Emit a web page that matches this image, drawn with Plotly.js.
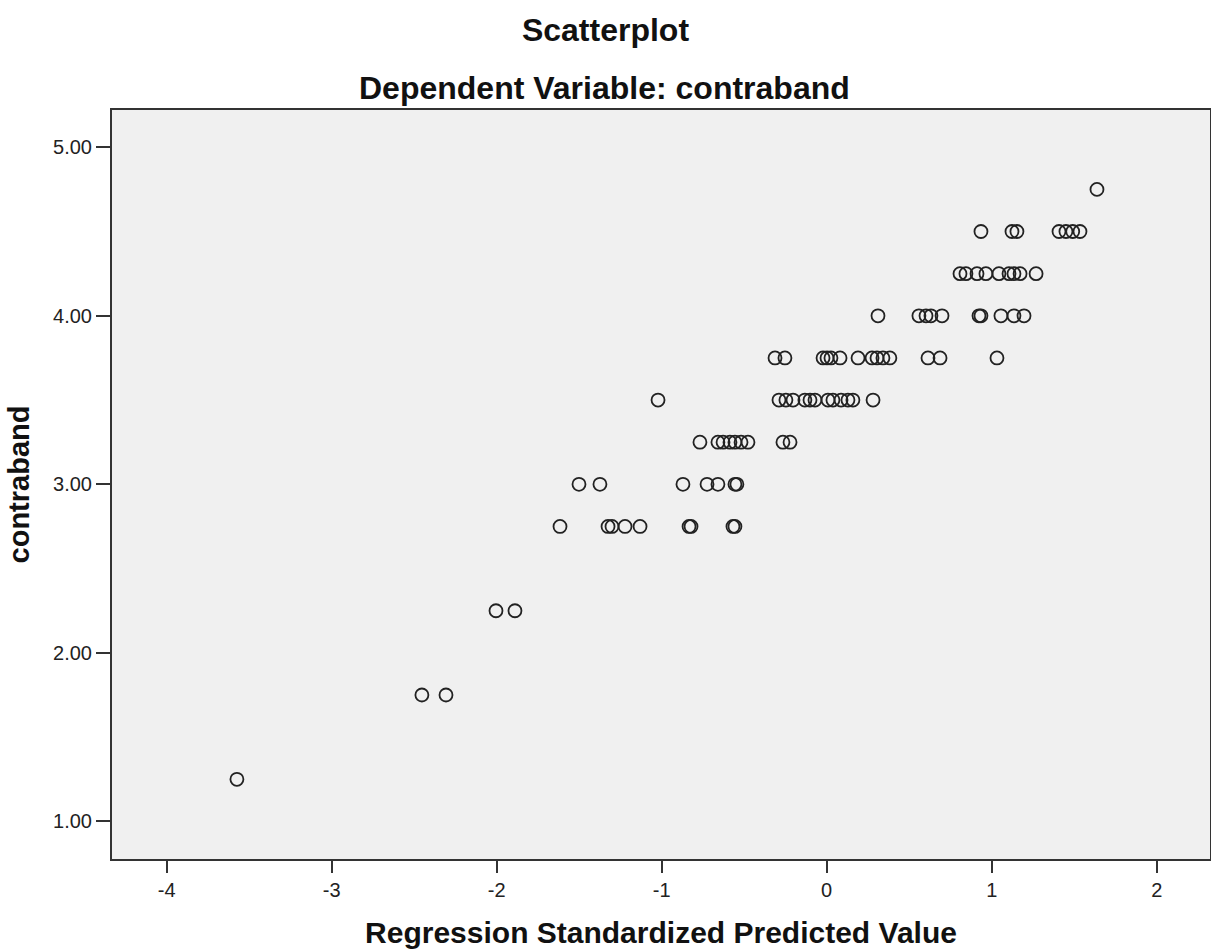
<!DOCTYPE html>
<html>
<head>
<meta charset="utf-8">
<script src="https://cdn.plot.ly/plotly-3.0.1.min.js"></script>
<style>html,body{margin:0;padding:0;background:#fff;}#chart{width:1211px;height:952px;}</style>
</head>
<body>
<div id="chart"></div>
<script>
const predicted = [
  -3.574,
  -2.453, -2.307,
  -2.004, -1.889,
  -1.616, -1.325, -1.301, -1.222, -1.131, -0.834, -0.822, -0.568, -0.556,
  -1.501, -1.374, -0.871, -0.725, -0.659, -0.556, -0.544,
  -0.768, -0.659, -0.628, -0.586, -0.556, -0.519, -0.477, -0.265, -0.222,
  -1.022, -0.289, -0.247, -0.204, -0.132, -0.101, -0.071, 0.008, 0.038, 0.087, 0.129, 0.159, 0.281,
  -0.313, -0.253, -0.022, 0.002, 0.026, 0.081, 0.190, 0.275, 0.305, 0.341, 0.383, 0.614, 0.687, 1.032,
  0.311, 0.559, 0.602, 0.632, 0.699, 0.923, 0.935, 1.056, 1.135, 1.196,
  0.808, 0.844, 0.911, 0.965, 1.044, 1.105, 1.135, 1.172, 1.269,
  0.935, 1.123, 1.153, 1.408, 1.450, 1.491, 1.535,
  1.638
];
const contraband = [
  1.25,
  1.75, 1.75,
  2.25, 2.25,
  2.75, 2.75, 2.75, 2.75, 2.75, 2.75, 2.75, 2.75, 2.75,
  3.00, 3.00, 3.00, 3.00, 3.00, 3.00, 3.00,
  3.25, 3.25, 3.25, 3.25, 3.25, 3.25, 3.25, 3.25, 3.25,
  3.50, 3.50, 3.50, 3.50, 3.50, 3.50, 3.50, 3.50, 3.50, 3.50, 3.50, 3.50, 3.50,
  3.75, 3.75, 3.75, 3.75, 3.75, 3.75, 3.75, 3.75, 3.75, 3.75, 3.75, 3.75, 3.75, 3.75,
  4.00, 4.00, 4.00, 4.00, 4.00, 4.00, 4.00, 4.00, 4.00, 4.00,
  4.25, 4.25, 4.25, 4.25, 4.25, 4.25, 4.25, 4.25, 4.25,
  4.50, 4.50, 4.50, 4.50, 4.50, 4.50, 4.50,
  4.75
];
const xTicks = [-4, -3, -2, -1, 0, 1, 2];
const yTicks = [1, 2, 3, 4, 5];
const yTickLabels = ['1.00', '2.00', '3.00', '4.00', '5.00'];

const font = 'Liberation Sans, Arial, sans-serif';

const trace = {
  type: 'scatter',
  mode: 'markers',
  x: predicted,
  y: contraband,
  marker: {
    symbol: 'circle-open',
    size: 13,
    color: '#222222',
    line: {width: 1.8, color: '#222222'}
  },
  hoverinfo: 'x+y'
};

const layout = {
  width: 1211,
  height: 952,
  margin: {l: 112, r: 1, t: 110, b: 93, pad: 0},
  paper_bgcolor: '#ffffff',
  plot_bgcolor: '#f0f0f0',
  showlegend: false,
  font: {family: font, color: '#111111'},
  title: {
    text: '<b>Scatterplot</b>',
    font: {family: font, size: 32, color: '#111111'},
    x: 0.5, xanchor: 'center',
    y: 1 - 30 / 952, yanchor: 'middle'
  },
  annotations: [{
    text: '<b>Dependent Variable: contraband</b>',
    xref: 'paper', yref: 'paper',
    x: (604 - 112) / 1098, xanchor: 'center',
    y: 1 + (110 - 88) / 749, yanchor: 'middle',
    showarrow: false,
    font: {family: font, size: 32, color: '#111111'}
  }],
  xaxis: {
    range: [-4.331, 2.323],
    tickmode: 'array',
    tickvals: xTicks,
    ticktext: xTicks.map(String),
    ticks: 'outside', ticklen: 12, tickwidth: 2, tickcolor: '#333333',
    tickfont: {family: font, size: 20, color: '#222222'},
    showgrid: false, zeroline: false,
    showline: true, mirror: true, linecolor: '#333333', linewidth: 2,
    title: {
      text: '<b>Regression Standardized Predicted Value</b>',
      font: {family: font, size: 30, color: '#111111'},
      standoff: 22
    }
  },
  yaxis: {
    range: [0.777, 5.221],
    tickmode: 'array',
    tickvals: yTicks,
    ticktext: yTickLabels,
    ticks: 'outside', ticklen: 14, tickwidth: 2, tickcolor: '#333333',
    tickfont: {family: font, size: 20, color: '#222222'},
    showgrid: false, zeroline: false,
    showline: true, mirror: true, linecolor: '#333333', linewidth: 2,
    title: {
      text: '<b>contraband</b>',
      font: {family: font, size: 29, color: '#111111'},
      standoff: 15
    }
  }
};

Plotly.newPlot('chart', [trace], layout, {displayModeBar: false, responsive: false});
</script>
</body>
</html>
